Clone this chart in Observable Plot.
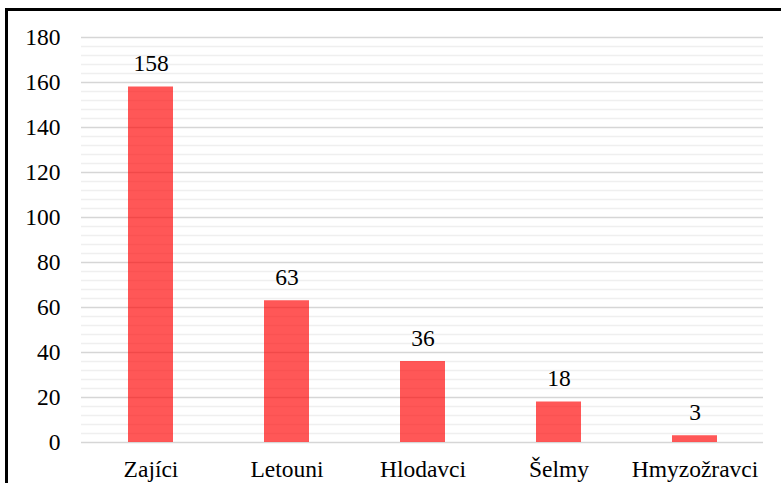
<!DOCTYPE html>
<html>
<head>
<meta charset="utf-8">
<script src="https://cdn.jsdelivr.net/npm/d3@7"></script>
<script src="https://cdn.jsdelivr.net/npm/@observablehq/plot@0.6"></script>
<style>
  html, body { margin: 0; background: #fff; }
  body { padding: 8px 0 0 5px; font-family: serif; }
  #frame { border-left: 3px solid #000; border-top: 3px solid #000; width: 773px; }
  #frame svg, #frame svg text { font-family: "Times New Roman", Times, serif !important; }
</style>
</head>
<body>
<div id="frame"></div>
<script>
const categories = ["Zajíci", "Letouni", "Hlodavci", "Šelmy", "Hmyzožravci"];
const values = [158, 63, 36, 18, 3];
const majorTicks = [0, 20, 40, 60, 80, 100, 120, 140, 160, 180];
const minorTicks = d3.range(0, 181, 4).filter(v => v % 20 !== 0);

const data = categories.map((c, i) => ({ cat: c, value: values[i] }));
const serif = "'Times New Roman', Times, serif";

const chart = Plot.plot({
  width: 773,
  height: 472,
  marginLeft: 73,
  marginRight: 18,
  marginTop: 26,
  marginBottom: 41,
  style: { fontFamily: serif, fontSize: "23.5px", color: "#000", background: "#fff" },
  x: { domain: categories, paddingInner: 0.67, paddingOuter: 0.335, label: null },
  y: { domain: [0, 180], label: null },
  marks: [
    Plot.ruleY(minorTicks, { stroke: "#efefef", strokeWidth: 1.5 }),
    Plot.ruleY(majorTicks, { stroke: "#d6d6d6", strokeWidth: 1.5 }),
    Plot.barY(data, { x: "cat", y: "value", fill: "#ff0000", fillOpacity: 0.66 }),
    Plot.text(data, { x: "cat", y: "value", text: d => String(d.value), dy: -16, lineAnchor: "bottom", fontSize: 23.5, fontFamily: serif, fill: "#000" }),
    Plot.axisY({ ticks: majorTicks, tickSize: 0, tickPadding: 21, label: null, fontSize: 23.5, fontFamily: serif }),
    Plot.axisX({ tickSize: 0, tickPadding: 18, label: null, fontSize: 23.5, fontFamily: serif })
  ]
});
document.getElementById("frame").appendChild(chart);
</script>
</body>
</html>
